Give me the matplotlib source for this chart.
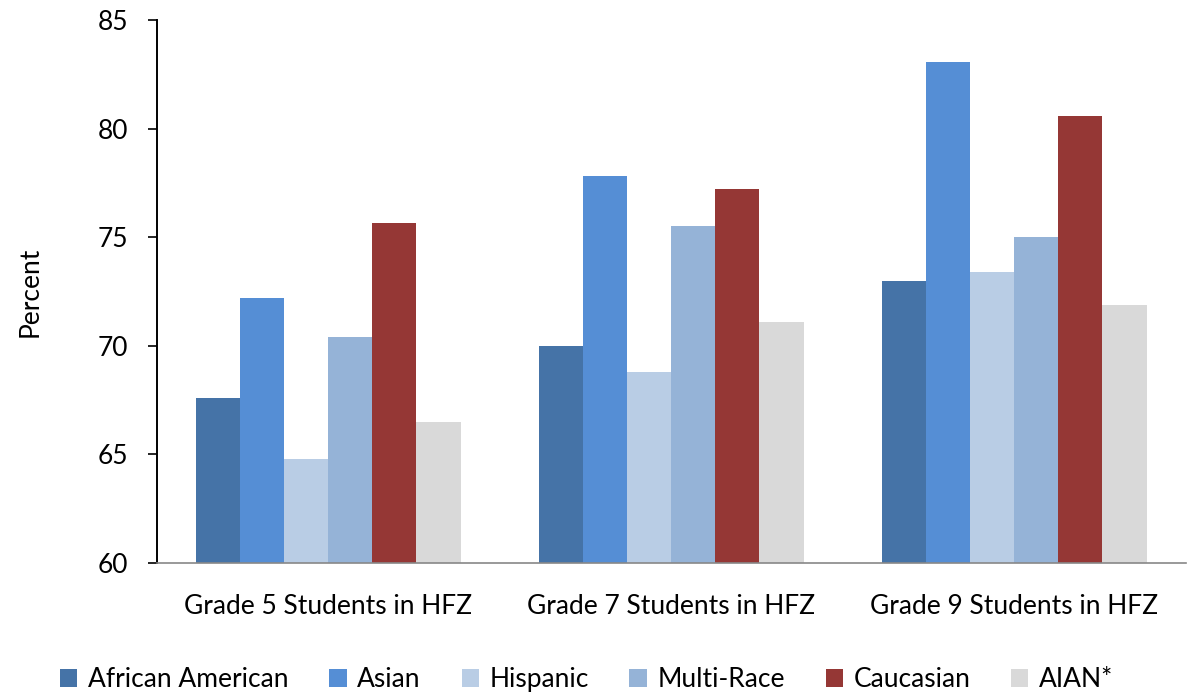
import numpy as np
import matplotlib
matplotlib.use('Agg')
import matplotlib.pyplot as plt

categories = ['Grade 5 Students in HFZ', 'Grade 7 Students in HFZ', 'Grade 9 Students in HFZ']
groups = ['African American', 'Asian', 'Hispanic', 'Multi-Race', 'Caucasian', 'AIAN*']
african_american = [67.6, 70.0, 73.0]
asian = [72.2, 77.8, 83.05]
hispanic = [64.8, 68.8, 73.4]
multi_race = [70.4, 75.5, 75.0]
caucasian = [75.65, 77.2, 80.6]
aian = [66.5, 71.1, 71.9]
colors = ['#4573A7', '#558ED5', '#B9CDE5', '#95B3D7', '#953735', '#D9D9D9']

series = [african_american, asian, hispanic, multi_race, caucasian, aian]

plt.rcParams['font.family'] = ['Lato', 'DejaVu Sans']

fig = plt.figure(figsize=(11.9, 6.95), dpi=100)
ax = fig.add_axes([0.1319, 0.1899, 0.8647, 0.7813])

x = np.arange(len(categories))
group_width = 0.77
bar_w = group_width / len(series)
for i, (vals, col, name) in enumerate(zip(series, colors, groups)):
    offset = -group_width / 2 + bar_w * (i + 0.5)
    ax.bar(x + offset, vals, width=bar_w, color=col, label=name, zorder=2)

ax.set_xlim(-0.5, 2.5)
ax.set_ylim(60, 85)
ax.set_yticks([60, 65, 70, 75, 80, 85])
ax.set_xticks(x)
ax.set_xticklabels(categories)
ax.tick_params(axis='y', direction='out', length=6.5, width=1.2, pad=14, labelsize=19)
ax.tick_params(axis='x', length=0, pad=22, labelsize=19)

for side in ['top', 'right']:
    ax.spines[side].set_visible(False)
ax.spines['left'].set_linewidth(1.4)
ax.spines['left'].set_color('black')
ax.spines['bottom'].set_color('#888888')
ax.spines['bottom'].set_linewidth(1.2)
ax.spines['bottom'].set_zorder(3)

ax.set_ylabel('Percent', fontsize=19, labelpad=40)

fig.legend(*ax.get_legend_handles_labels(), loc='center', bbox_to_anchor=(0.493, 0.022),
           ncol=6, frameon=False, fontsize=19, handlelength=0.65, handleheight=0.65,
           handletextpad=0.4, columnspacing=1.55, borderpad=0.1)

fig.savefig('out.png', dpi=100)
